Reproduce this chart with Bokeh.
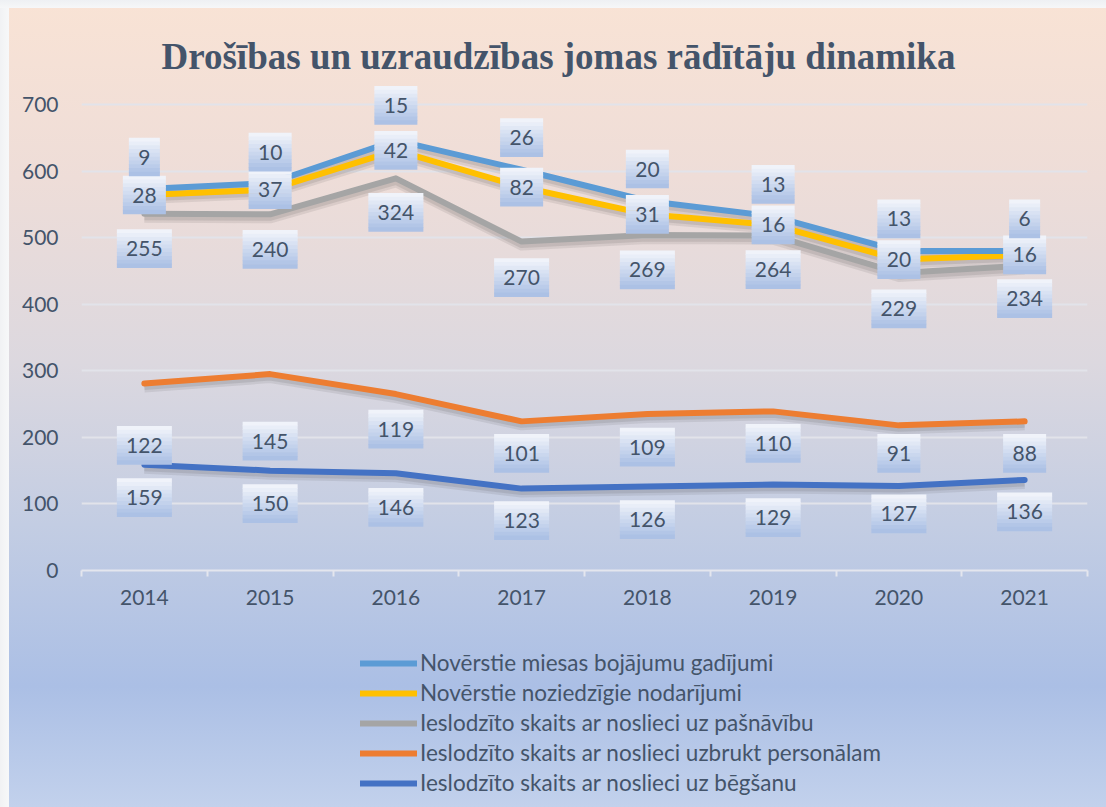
import numpy as np
from bokeh.plotting import figure
from bokeh.layouts import column
from bokeh.models import (Range1d, FixedTicker, ColumnDataSource, Legend, LegendItem)
from bokeh.core.properties import value
from bokeh.embed import file_html
from bokeh.resources import INLINE

# ---------------- data ----------------
years = ["2014", "2015", "2016", "2017", "2018", "2019", "2020", "2021"]
begsanu = [159, 150, 146, 123, 126, 129, 127, 136]          # Ieslodzīto skaits ar noslieci uz bēgšanu
uzbrukt = [122, 145, 119, 101, 109, 110, 91, 88]            # ... uzbrukt personālam
pasnavibu = [255, 240, 324, 270, 269, 264, 229, 234]        # ... uz pašnāvību
noziedzigie = [28, 37, 42, 82, 31, 16, 20, 16]              # Novērstie noziedzīgie nodarījumi
miesas = [9, 10, 15, 26, 20, 13, 13, 6]                     # Novērstie miesas bojājumu gadījumi

names = ["Ieslodzīto skaits ar noslieci uz bēgšanu",
         "Ieslodzīto skaits ar noslieci uzbrukt personālam",
         "Ieslodzīto skaits ar noslieci uz pašnāvību",
         "Novērstie noziedzīgie nodarījumi",
         "Novērstie miesas bojājumu gadījumi"]
series = [begsanu, uzbrukt, pasnavibu, noziedzigie, miesas]
colors = ["#4472C4", "#ED7D31", "#A5A5A5", "#FFC000", "#5B9BD5"]

# label offsets in screen px (positive = below the line)
label_offsets = [
    [33, 33, 34, 32, 33, 33, 28, 32],
    [62, 67, 35, 32, 33, 32, 28, 32],
    [35, 35, 34, 36, 35, 34, 36, 33],
    [0, 0, 0, 0, 0, 0, 0, 0],
    [-32, -31, -35, -32, -32, -32, -32, -32],
]

TXT = "#44546A"
FONT = "Lato"

W = 1106
H_MAIN, H_LEG = 625, 182
YTOP, YEND = 700, 730          # last tick, visible range end (room for top labels)
ML, MR, MT = 81, 19, 84
MB = H_MAIN - 570
frame_h = H_MAIN - MT - MB
pxu = frame_h / YEND  # pixels per data unit

p = figure(width=W, height=H_MAIN, output_backend="svg", toolbar_location=None,
           x_range=Range1d(0, len(years)), y_range=Range1d(0, YEND),
           min_border_left=ML, min_border_right=MR, min_border_top=MT, min_border_bottom=MB)
p.background_fill_alpha = 0
p.border_fill_alpha = 0
p.outline_line_color = None

# title
p.title.text = "Drošības un uzraudzības jomas rādītāju dinamika"
p.title.text_font = "Liberation Serif"
p.title.text_font_style = "bold"
p.title.text_font_size = "37px"
p.title.text_color = TXT
p.title.align = "left"
p.title.offset = 80
p.title.standoff = 15

xs = [i + 0.5 for i in range(len(years))]

# axes
xa = p.xaxis[0]
xa.ticker = FixedTicker(ticks=xs, minor_ticks=list(range(len(years) + 1)))
xa.major_label_overrides = {x: y for x, y in zip(xs, years)}
xa.major_tick_line_color = None
xa.major_tick_out = 6
xa.major_tick_in = 0
xa.minor_tick_line_color = "#E4E6EE"
xa.minor_tick_line_width = 2
xa.minor_tick_out = 6
xa.minor_tick_in = 0
xa.axis_line_color = "#E4E6EE"
xa.axis_line_width = 2
xa.major_label_text_font = FONT
xa.major_label_text_font_size = "21px"
xa.major_label_text_color = TXT
xa.major_label_standoff = 13

ya = p.yaxis[0]
ya.ticker = FixedTicker(ticks=list(range(0, YTOP + 1, 100)))
ya.axis_line_color = None
ya.major_tick_line_color = None
ya.minor_tick_line_color = None
ya.major_tick_out = 0
ya.major_label_standoff = 23
ya.major_label_text_font = FONT
ya.major_label_text_font_size = "21px"
ya.major_label_text_color = TXT

p.xgrid.grid_line_color = None
p.ygrid.grid_line_color = "#E2E3EA"
p.ygrid.grid_line_width = 2

# stacked cumulative values
cum = np.cumsum(np.array(series, dtype=float), axis=0)

# line shadows
for k in range(len(series)):
    p.line(xs, cum[k] - 4 / pxu, line_color="#3A3A3A", line_alpha=0.10, line_width=10, line_join="round")
    p.line(xs, cum[k] - 3 / pxu, line_color="#3A3A3A", line_alpha=0.12, line_width=7, line_join="round")

for k in range(len(series)):
    p.line(xs, cum[k], line_color=colors[k], line_width=6, line_join="round", line_cap="round")

# label boxes (gradient made of horizontal bands)
BOX_H = 38
NB = 10
bh = BOX_H / NB
top_c = np.array([0xF4, 0xF6, 0xFB], dtype=float)
bot_c = np.array([0xA8, 0xBE, 0xE4], dtype=float)
band_cols = []
for b in range(NB):
    t = (b + 0.5) / NB
    c = top_c + (bot_c - top_c) * t
    band_cols.append("#%02X%02X%02X" % tuple(int(round(v)) for v in c))

bx, by, bw, bc = [], [], [], []
lx, ly, lt = [], [], []
for k in range(len(series)):
    for i in range(len(years)):
        txt = str(series[k][i])
        off = label_offsets[k][i]
        yc = cum[k][i] - off / pxu
        wbox = 12 * len(txt) + 19
        for b in range(NB):
            dpx = -BOX_H / 2 + (b + 0.5) * bh
            bx.append(xs[i]); by.append(yc - dpx / pxu); bw.append(wbox); bc.append(band_cols[b])
        lx.append(xs[i]); ly.append(yc); lt.append(txt)

src = ColumnDataSource(dict(x=bx, y=by, w=bw, c=bc))
p.rect(x="x", y="y", width="w", height=bh + 0.7, width_units="screen", height_units="screen",
       fill_color="c", line_color=None, source=src)
p.text(x=lx, y=ly, text=lt, text_align="center", text_baseline="middle",
       text_font=value(FONT), text_font_size="21px", text_color=TXT)

# ---------------- legend strip ----------------
# (the same series lines, kept out of view, only to feed the legend glyphs)
pl = figure(width=W, height=H_LEG, output_backend="svg", toolbar_location=None,
            x_axis_type=None, y_axis_type=None, min_border=0,
            x_range=Range1d(0, 1), y_range=Range1d(-2, -1))
pl.background_fill_alpha = 0
pl.border_fill_alpha = 0
pl.outline_line_color = None
pl.grid.grid_line_color = None

leg_renderers = {}
for k in range(len(series)):
    leg_renderers[k] = pl.line(xs, cum[k], line_color=colors[k], line_width=6, line_cap="round")

order = [4, 3, 2, 1, 0]
items = [LegendItem(label=names[k], renderers=[leg_renderers[k]]) for k in order]
legend = Legend(items=items, location=(279, 11), orientation="vertical")
legend.background_fill_alpha = 0
legend.border_line_color = None
legend.padding = 0
legend.margin = 0
legend.spacing = 3
legend.glyph_width = 57
legend.glyph_height = 24
legend.label_height = 24
legend.label_standoff = 3
legend.label_text_font = FONT
legend.label_text_font_size = "22.5px"
legend.label_text_color = TXT
pl.add_layout(legend, "center")

layout = column(p, pl, spacing=0)
layout.styles = {"background": (
    "linear-gradient(180deg, #EEF0F3 0px, #F6F7F8 8px, transparent 8px), "
    "linear-gradient(90deg, #F1F2F4 0px, #F7F8F9 9px, transparent 9px), "
    "linear-gradient(180deg, #F9E3D5 0%, #EEDDD8 22%, #DCD8DF 45%, #C3CDE3 65%, #ABBFE5 85%, #C2D1EC 100%)")}

open("out.html", "w").write(file_html(layout, INLINE))
